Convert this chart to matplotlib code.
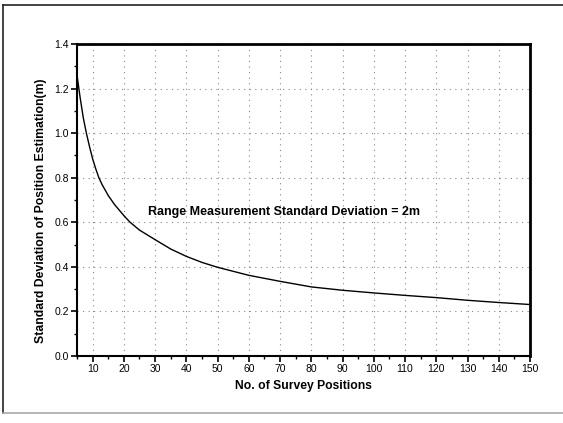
import matplotlib
matplotlib.use("Agg")
import matplotlib.pyplot as plt
from matplotlib.lines import Line2D
from matplotlib.ticker import MultipleLocator, FormatStrFormatter

# Data
survey_positions = [5, 6, 7, 8, 9, 10, 11, 12, 13, 15, 17, 20, 22, 25, 30, 35,
                    40, 45, 50, 60, 70, 80, 90, 100, 110, 120, 130, 140, 150]
std_position = [1.26, 1.16, 1.07, 1.00, 0.94, 0.885, 0.84, 0.80, 0.77, 0.72,
                0.68, 0.63, 0.60, 0.565, 0.522, 0.48, 0.447, 0.42, 0.398,
                0.362, 0.335, 0.31, 0.295, 0.283, 0.272, 0.262, 0.25, 0.24, 0.231]
x_ticks = [10, 20, 30, 40, 50, 60, 70, 80, 90, 100, 110, 120, 130, 140, 150]
y_ticks = [0.0, 0.2, 0.4, 0.6, 0.8, 1.0, 1.2, 1.4]

plt.rcParams['font.family'] = ['Liberation Sans', 'DejaVu Sans']

W, H = 563, 423
fig = plt.figure(figsize=(W / 100, H / 100), dpi=100)
ax = fig.add_axes([77 / W, 1 - 356 / H, (530 - 77) / W, (356 - 44) / H])

ax.plot(survey_positions, std_position, color='black', lw=1.0)

ax.set_xlim(5, 150)
ax.set_ylim(0, 1.4)
ax.set_xticks(x_ticks)
ax.set_yticks(y_ticks)
ax.xaxis.set_minor_locator(MultipleLocator(5))
ax.yaxis.set_minor_locator(MultipleLocator(0.1))
ax.yaxis.set_major_formatter(FormatStrFormatter('%.1f'))
ax.tick_params(which='major', direction='out', length=4, width=1.2,
               labelsize=7.5, pad=2, top=False, right=False)
ax.tick_params(which='minor', direction='out', length=2.5, width=1.0,
               top=False, right=False)

ax.grid(True, which='major', linestyle=(0, (1, 4)), color='#888888', lw=0.8)

ax.spines['left'].set_linewidth(1.5)
ax.spines['bottom'].set_linewidth(1.5)
ax.spines['top'].set_linewidth(2.0)
ax.spines['right'].set_linewidth(2.0)

ax.set_xlabel('No. of Survey Positions', fontsize=8.7, fontweight='bold', labelpad=4)
ax.set_ylabel('Standard Deviation of Position Estimation(m)', fontsize=8.8,
              fontweight='bold', labelpad=4)
ax.yaxis.set_label_coords(-0.066, 0.465)

ax.text(0.458, 0.463, 'Range Measurement Standard Deviation = 2m',
        transform=ax.transAxes, fontsize=9, fontweight='bold',
        ha='center', va='center')

# scanned page frame
fig.add_artist(Line2D([3 / W, 1.0], [1 - 5 / H, 1 - 5 / H], color='#222222', lw=1.2,
                      transform=fig.transFigure))
fig.add_artist(Line2D([3 / W, 3 / W], [1 - 5 / H, 1 - 413 / H], color='#222222', lw=1.2,
                      transform=fig.transFigure))
fig.add_artist(Line2D([3 / W, 1.0], [1 - 413 / H, 1 - 413 / H], color='#aaaaaa', lw=1.2,
                      transform=fig.transFigure))

fig.savefig('out.png', dpi=100)
